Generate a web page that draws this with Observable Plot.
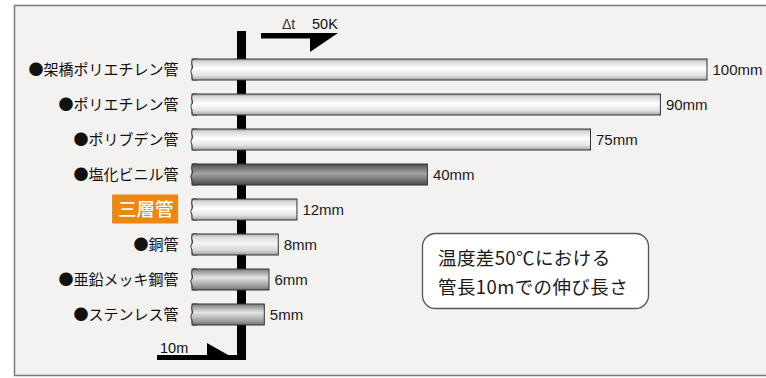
<!DOCTYPE html>
<html><head><meta charset="utf-8">
<script src="https://cdn.jsdelivr.net/npm/d3@7"></script>
<script src="https://cdn.jsdelivr.net/npm/@observablehq/plot@0.6"></script>
<style>body{margin:0;background:#fff}</style>
</head><body><div id="chart"></div>
<script>
// ---- data ----
const pipes = ["●架橋ポリエチレン管","●ポリエチレン管","●ポリブデン管","●塩化ビニル管","三層管","●銅管","●亜鉛メッキ鋼管","●ステンレス管"];
const expansion = [100, 90, 75, 40, 12, 8, 6, 5];           // mm
const finish = ["light","light","light","dark","light","copper","steel","steel"];
const highlight = "三層管";
const unit = "mm";
const pipeStart = -10.5;                                     // cut end of the 10 m pipe (mm scale)
const noteLines = ["温度差50℃における", "管長10mでの伸び長さ"];
const deltaLabel = ["Δt", "50K"];
const lengthLabel = "10m";

const data = pipes.map((name, i) => ({name, value: expansion[i], finish: finish[i], start: pipeStart}));

const FONT = "'Noto Sans CJK JP', 'Noto Sans', sans-serif";
const NUMFONT = "'Liberation Sans', Arial, sans-serif";
const BG = "#f3f2f0";

const gradients = {
  light:  [[0,"#9c9c9c"],[0.12,"#d6d6d6"],[0.45,"#ffffff"],[0.78,"#e2e2e2"],[1,"#a4a4a4"]],
  copper: [[0,"#a8a8a8"],[0.15,"#dcdcdc"],[0.45,"#f6f6f6"],[0.8,"#d4d4d4"],[1,"#999999"]],
  dark:   [[0,"#4e4e4e"],[0.45,"#a4a4a4"],[0.8,"#6c6c6c"],[1,"#4a4a4a"]],
  steel:  [[0,"#7c7c7c"],[0.4,"#e4e4e4"],[0.8,"#a0a0a0"],[1,"#707070"]]
};

function defsMark() {
  const g = d3.create("svg:g");
  const defs = g.append("defs");
  for (const [k, stops] of Object.entries(gradients)) {
    const lg = defs.append("linearGradient").attr("id", "g-" + k)
      .attr("x1", 0).attr("y1", 0).attr("x2", 0).attr("y2", 1);
    for (const [o, c] of stops) lg.append("stop").attr("offset", o).attr("stop-color", c);
  }
  g.append("rect").attr("x", 14.5).attr("y", 5.5).attr("width", 770).attr("height", 370)
    .attr("fill", BG).attr("stroke", "#7a7a7a").attr("stroke-width", 1.5);
  return g.node();
}

// wavy cut end of each pipe, positioned through the plot's scales
function cutEnds(index, scales) {
  const x = scales.x, y = scales.y;
  const bw = y.bandwidth ? y.bandwidth() : 21;
  const g = d3.create("svg:g");
  for (const d of data) {
    const x0 = x(d.start), y0 = y(d.name), y1 = y0 + bw;
    const h = bw;
    const curve = `C${x0-2},${y0+h*0.2} ${x0+1},${y0+h*0.3} ${x0+0.5},${y0+h*0.42}
      C${x0},${y0+h*0.5} ${x0-2},${y0+h*0.55} ${x0-1},${y0+h*0.65}
      C${x0+1},${y0+h*0.8} ${x0-1},${y0+h*0.9} ${x0+1},${y1}`;
    g.append("path").attr("d", `M${x0+1},${y0} ${curve} L${x0+5},${y1} L${x0+5},${y0} Z`)
      .attr("fill", `url(#g-${d.finish})`).attr("stroke", "none");
    g.append("path").attr("d", `M${x0+5},${y0} L${x0+1},${y0} ${curve} L${x0+5},${y1}`)
      .attr("fill", "none").attr("stroke", "#333").attr("stroke-width", 1);
  }
  return g.node();
}

function highlightBox(index, scales) {
  const x = scales.x, y = scales.y;
  const bw = y.bandwidth ? y.bandwidth() : 21;
  const cy = y(highlight) + bw / 2;
  const x0 = x(pipeStart);
  return d3.create("svg:rect").attr("x", x0 - 80).attr("y", cy - 15).attr("width", 66).attr("height", 29)
    .attr("fill", "#ee870f").node();
}

function arrows(index, scales) {
  const x0 = scales.x(0);
  const g = d3.create("svg:g").attr("text-anchor", "start").attr("font-family", NUMFONT);
  g.append("rect").attr("x", x0 + 20).attr("y", 33).attr("width", 52).attr("height", 5.5).attr("fill", "#000");
  g.append("path").attr("d", `M${x0+69},33 L${x0+97},33 L${x0+69},52 Z`).attr("fill", "#000");
  g.append("text").attr("x", x0 + 41).attr("y", 29).attr("font-size", 14).attr("font-weight", 300)
    .attr("fill", "#333").text(deltaLabel[0]);
  g.append("text").attr("x", x0 + 71).attr("y", 29).attr("font-size", 14.5).attr("fill", "#111").text(deltaLabel[1]);
  g.append("rect").attr("x", x0 - 84).attr("y", 355).attr("width", 80).attr("height", 5).attr("fill", "#000");
  g.append("path").attr("d", `M${x0-34},343 L${x0-34},360 L${x0-4},360 Z`).attr("fill", "#000");
  g.append("text").attr("x", x0 - 81).attr("y", 353).attr("font-size", 14.5).attr("fill", "#111").text(lengthLabel);
  return g.node();
}

function note() {
  const g = d3.create("svg:g").attr("text-anchor", "start");
  g.append("rect").attr("x", 422.5).attr("y", 233.5).attr("width", 226).attr("height", 75).attr("rx", 13)
    .attr("fill", "#fff").attr("stroke", "#555").attr("stroke-width", 1.3);
  noteLines.forEach((t, i) => g.append("text").attr("x", 438).attr("y", 265 + i * 29)
    .attr("font-size", 18.5).attr("letter-spacing", 0.4).attr("fill", "#1a1a1a").text(t));
  return g.node();
}

const plot = Plot.plot({
  width: 766,
  height: 378,
  marginLeft: 241,
  marginRight: 59,
  marginTop: 31,
  marginBottom: 18,
  style: {background: "#fff", fontFamily: FONT},
  x: {domain: [0, 100], axis: null},
  y: {type: "band", domain: pipes, range: [58.5, 324.5], paddingInner: 0.4, paddingOuter: 0, axis: null},
  color: {type: "identity"},
  marks: [
    defsMark,
    Plot.ruleX([0], {stroke: "#000", strokeWidth: 9}),
    Plot.barX(data, {y: "name", x1: "start", x2: "value", fill: d => `url(#g-${d.finish})`,
      stroke: "#333", strokeWidth: 1}),
    cutEnds,
    highlightBox,
    Plot.text(data.filter(d => d.name !== highlight), {x: "start", y: "name", text: "name",
      textAnchor: "end", dx: -14, fontSize: 15, fill: "#111"}),
    Plot.text(data.filter(d => d.name === highlight), {x: "start", y: "name", text: "name",
      textAnchor: "end", dx: -19, fontSize: 18.5, fill: "#fff", fontWeight: 500}),
    Plot.text(data, {x: "value", y: "name", text: d => d.value + unit, textAnchor: "start",
      dx: 5, fontSize: 15, fill: "#1a1a1a", fontFamily: NUMFONT}),
    arrows,
    note
  ]
});
document.getElementById("chart").appendChild(plot);
</script>
</body></html>
